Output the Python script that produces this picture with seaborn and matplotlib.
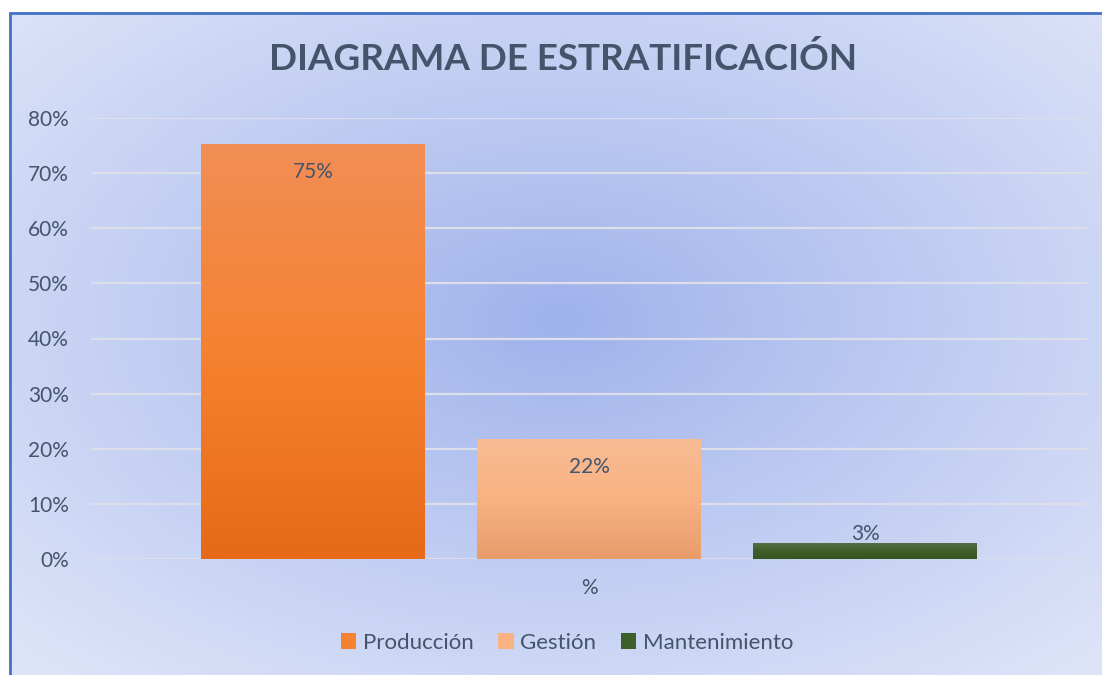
import matplotlib
matplotlib.use("Agg")
import matplotlib.pyplot as plt
from matplotlib.patches import Patch
import numpy as np
import pandas as pd
import seaborn as sns

# datos
categorias = ["Producción", "Gestión", "Mantenimiento"]
valores = [0.753, 0.218, 0.029]
etiquetas = ["75%", "22%", "3%"]
eje_x = ["%", "%", "%"]
ticks_y = [0, 0.1, 0.2, 0.3, 0.4, 0.5, 0.6, 0.7, 0.8]

# degradados (arriba, medio, abajo) por serie
degradados = {
    "Producción": [(242, 142, 86), (245, 130, 48), (230, 106, 24)],
    "Gestión": [(247, 188, 148), (249, 178, 130), (232, 156, 108)],
    "Mantenimiento": [(82, 112, 66), (62, 94, 42), (52, 84, 32)],
}
paleta = {k: tuple(c / 255 for c in v[1]) for k, v in degradados.items()}
TEXTO = "#44546A"

sns.set_theme(style="white")
plt.rcParams["font.family"] = ["Lato", "DejaVu Sans"]

df = pd.DataFrame({"x": eje_x, "serie": categorias, "valor": valores})

W, H = 1102, 675
fig = plt.figure(figsize=(W / 100, H / 100), dpi=100)

# fondo con degradado radial
fondo = fig.add_axes([0, 0, 1, 1], zorder=-1)
yy, xx = np.mgrid[0:H, 0:W]
d = np.sqrt(((xx - 560) / (W / 2)) ** 2 + ((yy - 320) / (H / 2)) ** 2) / np.sqrt(2)
d = np.clip(d, 0, 1) ** 0.9
c0 = np.array([157, 177, 235]) / 255
c1 = np.array([222, 228, 248]) / 255
img = c0[None, None, :] * (1 - d[..., None]) + c1[None, None, :] * d[..., None]
img[:12, :, :] = 1
img[:, :9, :] = 1
fondo.imshow(img, extent=(0, W, H, 0), aspect="auto", interpolation="bilinear")
fondo.plot([10, 10], [H, 13], color="#4472C4", lw=2)
fondo.plot([10, W], [13, 13], color="#4472C4", lw=2)
fondo.set_xlim(0, W)
fondo.set_ylim(H, 0)
fondo.axis("off")

ax = fig.add_axes([91 / W, 1 - 559 / H, (1087 - 91) / W, (559 - 118) / H])
ax.patch.set_alpha(0)
sns.barplot(data=df, x="x", y="valor", hue="serie", palette=paleta,
            gap=0.19, width=0.8, ax=ax, legend=False, zorder=3, linewidth=0)
ax.set_xlim(-0.481, 0.481)
ax.set_ylim(0, 0.8)
ax.set_yticks(ticks_y)
ax.set_yticklabels([f"{int(round(t * 100))}%" for t in ticks_y])
ax.grid(axis="y", color="#DCDFEA", lw=1.6, zorder=1)
ax.grid(axis="x", visible=False)
for s in ax.spines.values():
    s.set_visible(False)
ax.tick_params(axis="both", length=0, labelsize=15, labelcolor=TEXTO)
ax.tick_params(axis="y", pad=16)
ax.tick_params(axis="x", pad=14)
ax.set_xlabel("")
ax.set_ylabel("")

# degradado vertical dentro de cada barra
for barra, serie, etiqueta in zip(ax.patches, categorias, etiquetas):
    x0, y0 = barra.get_x(), barra.get_y()
    w, h = barra.get_width(), barra.get_height()
    stops = np.array(degradados[serie]) / 255
    t = np.linspace(0, 1, 256)
    col = np.empty((256, 1, 3))
    for i in range(3):
        col[:, 0, i] = np.interp(t, [0, 0.5, 1], stops[:, i])
    im = ax.imshow(col, extent=(x0, x0 + w, y0, y0 + h), aspect="auto",
                   zorder=4, interpolation="bilinear")
    im.set_clip_path(barra)
    cx = x0 + w / 2
    if h > 0.1:
        ax.annotate(etiqueta, (cx, h), xytext=(0, -20), textcoords="offset points",
                    ha="center", va="center", fontsize=15, color=TEXTO, zorder=5)
    else:
        ax.annotate(etiqueta, (cx, h), xytext=(0, 6.5), textcoords="offset points",
                    ha="center", va="center", fontsize=15, color=TEXTO, zorder=5)
ax.set_xlim(-0.481, 0.481)
ax.set_ylim(0, 0.8)

fig.text(563 / W, 1 - 59 / H, "DIAGRAMA DE ESTRATIFICACIÓN", ha="center",
         va="center", fontsize=26.5, fontweight="bold", color=TEXTO)

manijas = [Patch(facecolor=paleta[c], edgecolor="none") for c in categorias]
fig.legend(manijas, categorias, loc="center", bbox_to_anchor=(567 / W, 1 - 643 / H),
           ncol=3, frameon=False, fontsize=16, labelcolor=TEXTO,
           handlelength=0.7, handleheight=0.7, handletextpad=0.3, columnspacing=1.1)

fig.savefig("out.png", dpi=100)
